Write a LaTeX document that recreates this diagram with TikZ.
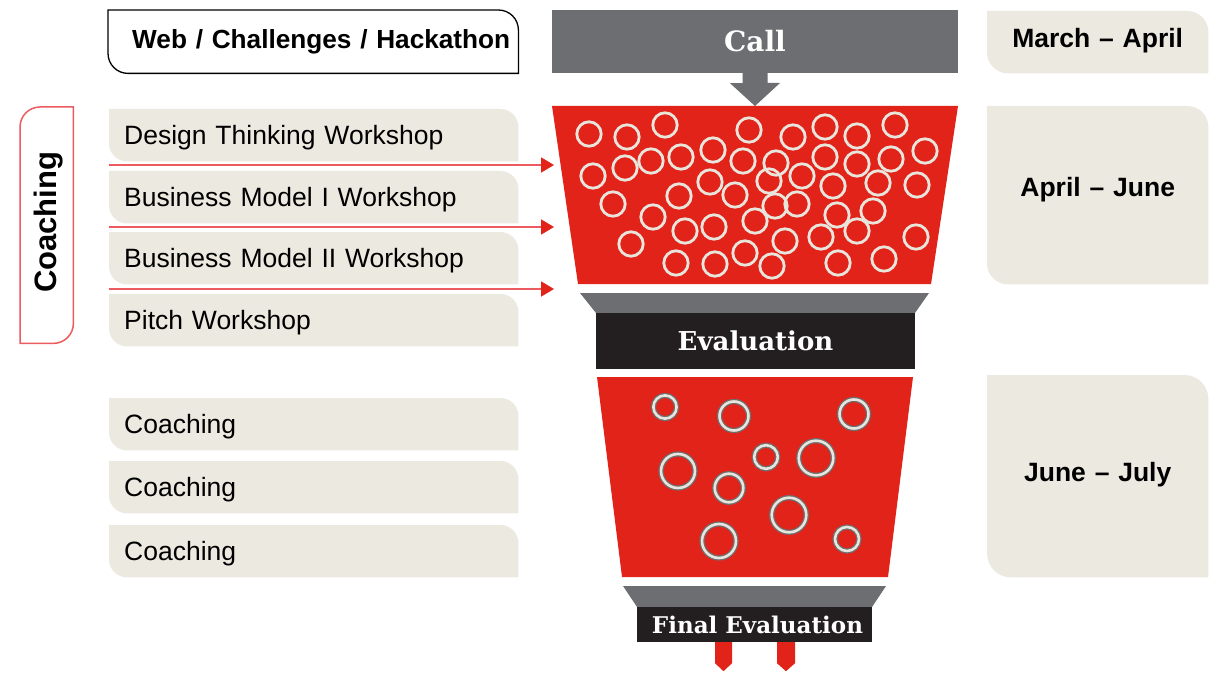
\documentclass[tikz,border=0pt]{standalone}
\usepackage{fontspec}
\setmainfont{Liberation Sans}
\newfontfamily\slab{DejaVu Serif}
\usetikzlibrary{arrows.meta,backgrounds}
\definecolor{fred}{HTML}{E2231A}
\definecolor{fgray}{HTML}{6D6E71}
\definecolor{fblack}{HTML}{231F20}
\definecolor{beige}{HTML}{ECEAE0}
\definecolor{ringc}{HTML}{E8E5DD}
\definecolor{lred}{HTML}{EC5B60}
% rounded top-right and bottom-left corners
\newcommand\trbl[3]{\path[#3] (#1.north west) -- ([xshift=-#2]#1.north east) to[out=0,in=90] ([yshift=-#2]#1.north east) -- (#1.south east) -- ([xshift=#2]#1.south west) to[out=180,in=-90] ([yshift=#2]#1.south west) -- cycle;}
% rounded top-left and bottom-right corners
\newcommand\tlbr[3]{\path[#3] ([yshift=-#2]#1.north west) to[out=90,in=180] ([xshift=#2]#1.north west) -- (#1.north east) -- ([yshift=#2]#1.south east) to[out=-90,in=0] ([xshift=-#2]#1.south east) -- (#1.south west) -- cycle;}
\tikzset{
  tabbox/.style={minimum height=52pt, text width=379pt, inner xsep=15pt, inner ysep=0pt, align=left, anchor=north west, text height=22pt, text depth=4pt, font=\fontsize{26.5}{30}\selectfont},
  datebox/.style={text width=221pt, inner sep=0pt, align=center, anchor=north west, font=\bfseries\fontsize{26.5}{30}\selectfont},
  darkbox/.style={fill=fblack, inner sep=0pt, text=white},
  slabfont/.style={font=\slab\bfseries\fontsize{#1}{#1}\selectfont},
  topring/.style={draw=ringc, line width=2.8pt},
  redarrow/.style={draw=lred, line width=1.8pt, -{Triangle[length=13pt,width=15pt,color=fred]}},
}
\newcommand\bring[3]{\draw[fgray, line width=5.2pt] (#1,#2) circle[radius=#3]; \draw[ringc, line width=2.6pt] (#1,#2) circle[radius=#3];}
\begin{document}
\begin{tikzpicture}[x=1pt,y=-1pt]
\useasboundingbox (0,0) rectangle (1220,679);

% ---------- left column ----------
\node[minimum width=410pt, minimum height=63pt, text width=410pt, inner xsep=0pt, inner ysep=0pt, align=left, anchor=north west, font=\bfseries\fontsize{26.2}{30}\selectfont] (web) at (108,10) {\hspace*{24pt}Web / Challenges / Hackathon};

\node[tabbox] (dt) at (109,109) {Design Thinking Workshop};
\node[tabbox] (bm1) at (109,171) {Business Model I Workshop};
\node[tabbox] (bm2) at (109,232) {Business Model II Workshop};
\node[tabbox] (pw) at (109,294) {Pitch Workshop};

\node[tabbox] (c1) at (109,398) {Coaching};
\node[tabbox] (c2) at (109,461) {Coaching};
\node[tabbox] (c3) at (109,525) {Coaching};

\node[minimum width=53pt, minimum height=236pt, inner sep=0pt, anchor=north west] (coachbox) at (20,107) {};
\node[rotate=90, font=\bfseries\fontsize{31}{34}\selectfont, inner sep=0pt] (coachlbl) at ([xshift=2pt,yshift=3pt]coachbox.center) {Coaching};

% ---------- right column ----------
\node[datebox, minimum height=62pt, text depth=9pt] (d1) at (987,11) {March -- April};
\node[datebox, minimum height=178pt, text depth=17pt] (d2) at (987,106) {April -- June};
\node[datebox, minimum height=202pt, text depth=9pt] (d3) at (987,375) {June -- July};

\begin{scope}[on background layer]
  \fill[white] (0,0) rectangle (1220,679);
  \trbl{web}{20pt}{fill=white, draw=black, line width=1.3pt}
  \foreach \n in {dt,bm1,bm2,pw,c1,c2,c3}{\trbl{\n}{18pt}{fill=beige}}
  \trbl{d1}{21pt}{fill=beige}
  \trbl{d2}{21pt}{fill=beige}
  \trbl{d3}{24pt}{fill=beige}
  \tlbr{coachbox}{20pt}{fill=white, draw=lred, line width=1.5pt}
\end{scope}

% ---------- funnel ----------
\node[fill=fgray, minimum width=406pt, minimum height=63pt, inner sep=0pt, text=white, slabfont=28] (call) at (755,41.5) {Call};
\coordinate (f1top) at (755,106);
\fill[fgray] (call.south) ++(-12.5,0) -- ++(0,10) -- ++(-12.5,0) -- (f1top) -- ++(25,-23) -- ++(-12.5,0) -- ++(0,-10) -- cycle;

\fill[fred] (552,106) -- (958,106) -- (931,284) -- (578,284) -- cycle;
\foreach \cx/\cy in {589/134,627/137,665/125,749/130,793/137,825/127,857/136,895/125,
  593/176,625/168,651/161,681/157,713/150,743/161,776/163,825/157,857/164,891/159,925/151,
  613/204,679/196,710/182,735/195,769/181,802/176,833/186,878/183,917/185,
  653/217,685/231,714/227,755/221,775/206,797/204,837/215,873/211,
  631/244,676/263,715/264,745/253,772/266,785/241,821/237,857/231,916/237,838/263,884/259}
  {\draw[topring] (\cx,\cy) circle[radius=12.2];}

\coordinate (a1) at (109,165); \coordinate (b1) at (554,165);
\coordinate (a2) at (109,227); \coordinate (b2) at (554,227);
\coordinate (a3) at (109,289); \coordinate (b3) at (554,289);
\draw[redarrow] (a1) -- (b1);
\draw[redarrow] (a2) -- (b2);
\draw[redarrow] (a3) -- (b3);

\fill[fgray] (580,293) -- (929,293) -- (915,313) -- (596,313) -- cycle;
\node[darkbox, minimum width=319pt, minimum height=56pt, slabfont=26] (eval) at (755.5,341) {Evaluation};

\fill[fred] (597,377) -- (913,377) -- (888,577) -- (622,577) -- cycle;
\bring{665}{407}{11.6}
\bring{734}{416}{14.5}
\bring{854}{414}{14.5}
\bring{678}{471}{17}
\bring{766}{457}{11.8}
\bring{816}{458}{17.3}
\bring{729}{488}{14.3}
\bring{789}{515}{17.3}
\bring{719}{541}{17}
\bring{847}{539}{12}

\fill[fgray] (623,586) -- (886,586) -- (872,607) -- (637,607) -- cycle;
\node[darkbox, minimum width=235pt, minimum height=35pt, slabfont=23] (final) at (754.5,624.5) {\hspace{6pt}Final Evaluation};

\fill[fred] (final.south) ++(-39.5,0) -- ++(17,0) -- ++(0,21) -- ++(-8.5,8) -- ++(-8.5,-8) -- cycle;
\fill[fred] (final.south) ++(22.5,0) -- ++(18,0) -- ++(0,21) -- ++(-9,8) -- ++(-9,-8) -- cycle;
\end{tikzpicture}
\end{document}
